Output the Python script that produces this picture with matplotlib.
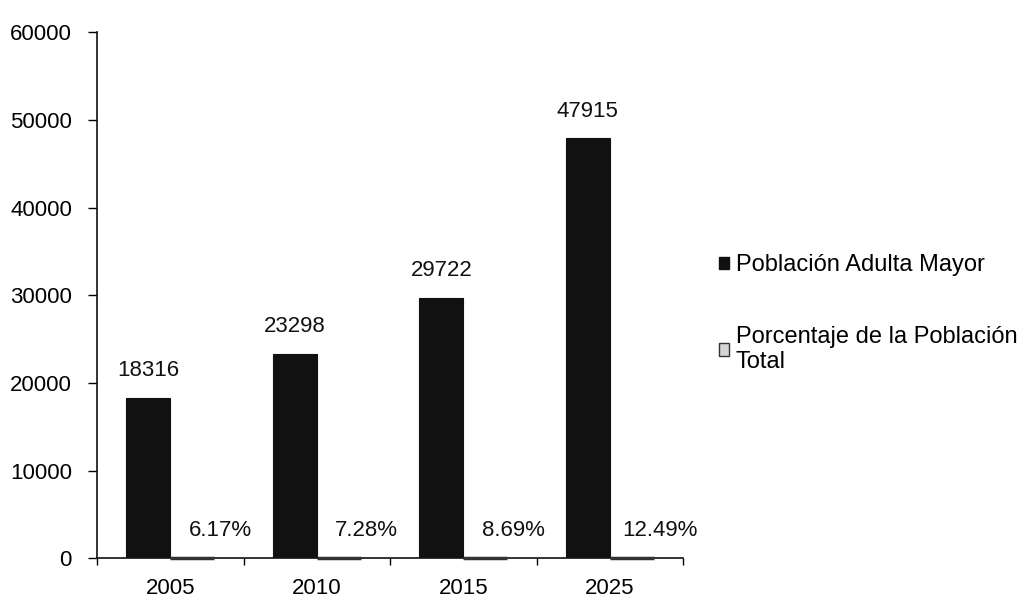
import matplotlib
matplotlib.use("Agg")
import matplotlib.pyplot as plt
from matplotlib.patches import Patch
import numpy as np

plt.rcParams['font.family'] = ['Liberation Sans', 'DejaVu Sans']

years = ["2005", "2010", "2015", "2025"]
poblacion = [18316, 23298, 29722, 47915]
porcentaje = [6.17, 7.28, 8.69, 12.49]
porcentaje_labels = ["6.17%", "7.28%", "8.69%", "12.49%"]
series_names = ["Población Adulta Mayor", "Porcentaje de la Población\nTotal"]

fs = 16

fig = plt.figure(figsize=(10.21, 5.97), dpi=100)
ax = fig.add_axes([0.095, 0.065, 0.574, 0.881])

x = np.arange(len(years))
w = 0.30
dark = "#111111"
light = "#d4d4d4"
ax.bar(x - w / 2, poblacion, w, color=dark, edgecolor=dark, linewidth=0.8, zorder=2)
ax.bar(x + w / 2, porcentaje, w, color=light, edgecolor="#333333", linewidth=2.5,
       zorder=3, clip_on=False)

off = 1900
for xi, v in zip(x, poblacion):
    ax.text(xi - w / 2, v + off, str(v), ha="center", va="bottom", fontsize=fs, color="#111111")
for xi, v, lab in zip(x, porcentaje, porcentaje_labels):
    ax.text(xi + w / 2 + 0.19, v + off, lab, ha="center", va="bottom", fontsize=fs, color="#111111")

ax.set_xlim(-0.5, len(years) - 0.5)
ax.set_ylim(0, 60000)
ax.set_yticks(np.arange(0, 60001, 10000))
ax.set_yticklabels([str(v) for v in range(0, 60001, 10000)], fontsize=fs)
ax.set_xticks(x)
ax.set_xticklabels(years, fontsize=fs)
ax.set_xticks(np.arange(-0.5, len(years), 1.0), minor=True)
ax.tick_params(axis="x", which="major", length=0, pad=14)
ax.tick_params(axis="x", which="minor", length=5, direction="out", width=1)
ax.tick_params(axis="y", length=6.5, direction="out", width=1, pad=11.5)

for s in ["top", "right"]:
    ax.spines[s].set_visible(False)
for s in ["left", "bottom"]:
    ax.spines[s].set_color("#111111")
    ax.spines[s].set_linewidth(1.2)

handles = [Patch(facecolor=dark, edgecolor=dark),
           Patch(facecolor=light, edgecolor="#333333")]
fig.legend(handles, series_names, loc="upper left", bbox_to_anchor=(0.683, 0.61),
           frameon=False, fontsize=17, handlelength=0.42, handleheight=0.42,
           handletextpad=0.3, labelspacing=2.1)

fig.savefig("out.png", dpi=100)
